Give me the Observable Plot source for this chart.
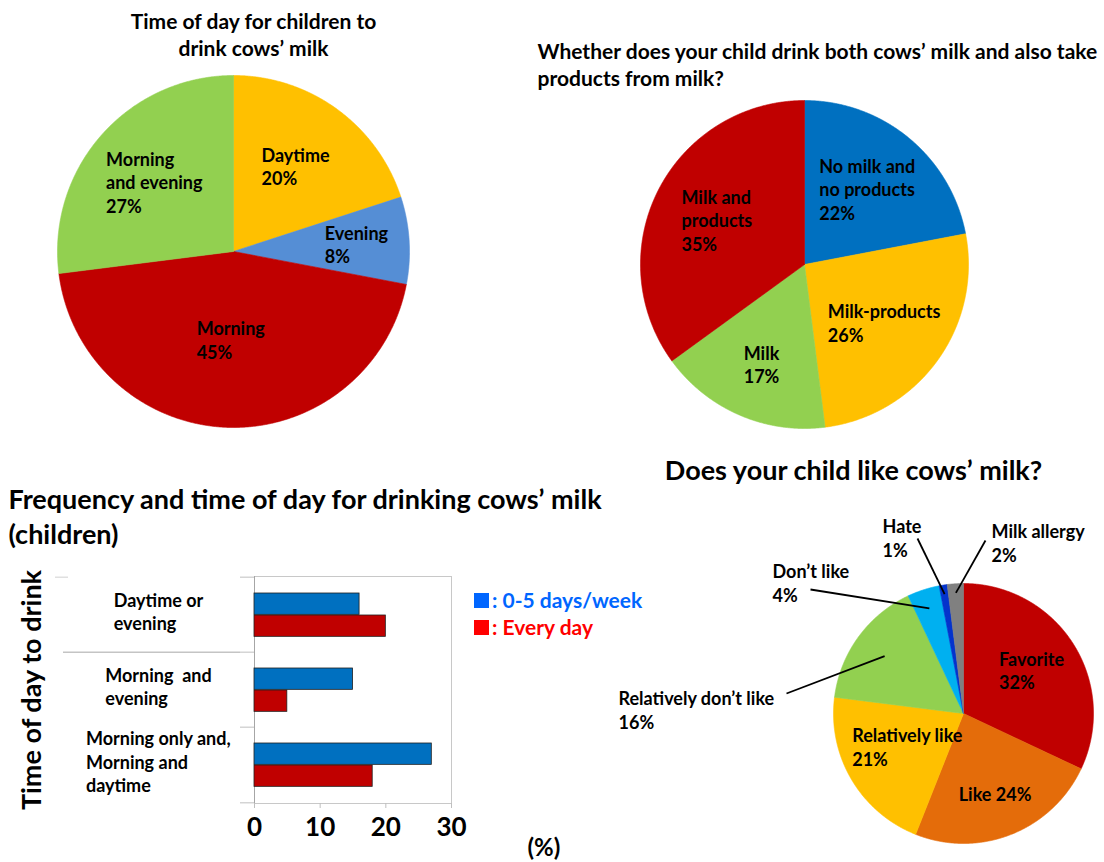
<!DOCTYPE html>
<html><head><meta charset="utf-8">
<script src="https://cdn.jsdelivr.net/npm/d3@7"></script>
<script src="https://cdn.jsdelivr.net/npm/@observablehq/plot@0.6"></script>
<style>
html,body{margin:0;padding:0;background:#fff;}
#root{position:relative;width:1104px;height:862px;overflow:hidden;font-family:Lato,"Open Sans",sans-serif;font-weight:700;color:#000;}
#root > svg, #root > div{position:absolute;}
.lg{position:absolute;white-space:nowrap;font-weight:700;font-size:21px;line-height:1;}
.sq{display:inline-block;width:15px;height:15px;vertical-align:0px;margin-right:3px;}
</style></head><body><div id="root"></div>
<script>
// ---------- DATA ----------
const timeLabels = ["Daytime", "Evening", "Morning", "Morning\nand evening"];
const timeValues = [20, 8, 45, 27];
const timeColors = ["#FFC000", "#558ED5", "#C00000", "#92D050"];

const productLabels = ["No milk and\nno products", "Milk-products", "Milk", "Milk and\nproducts"];
const productValues = [22, 26, 17, 35];
const productColors = ["#0070C0", "#FFC000", "#92D050", "#C00000"];

const likeLabels = ["Favorite", "Like", "Relatively like", "Relatively don’t like", "Don’t like", "Hate", "Milk allergy"];
const likeValues = [32, 24, 21, 16, 4, 1, 2];
const likeColors = ["#C00000", "#E46C0A", "#FFC000", "#92D050", "#00B0F0", "#0433CC", "#808080"];

const freqCategories = ["Daytime or\nevening", "Morning  and\nevening", "Morning only and,\nMorning and\ndaytime"];
const freqSeries = ["0-5 days/week", "Every day"];
const freqWeekly = [16, 15, 27];
const freqDaily = [20, 5, 18];
const freqTicks = [0, 10, 20, 30];
const seriesColors = ["#0070C0", "#C00000"];
const legendColors = ["#0066FF", "#FF0000"];

// ---------- LAYOUT ----------
const W = 1104, H = 862;
const FONT = "Lato, 'Open Sans', sans-serif";
const LFS = 18, LLH = 1.3;
const pie1 = {cx: 233, cy: 251, r: 176, lr: [0.6, 0.7, 0.5, 0.6], fs: LFS};
const pie2 = {cx: 804, cy: 264, r: 164, lr: [0.6, 0.6, 0.66, 0.6], fs: LFS};
const pie4 = {cx: 963, cy: 713, r: 130, lr: [0.62, 0.66, 0.5], fs: LFS};
const likeInline = new Set(["Like"]);
const likeOutside = {
  "Relatively don’t like": {tx: 618, ty: 709, lx: 786, ly: 693, r: 0.75},
  "Don’t like": {tx: 772, ty: 582, lx: 810, ly: 589, r: 0.85},
  "Hate": {tx: 882, ty: 537, lx: 917, ly: 538, r: 0.93},
  "Milk allergy": {tx: 991, ty: 542, lx: 985, ly: 540, r: 0.93}
};

const ctx = document.createElement("canvas").getContext("2d");
function textW(s, size) {
  ctx.font = `bold ${size}px Lato`;
  return d3.max(String(s).split("\n"), l => ctx.measureText(l).width);
}

function pieGeometry(key, labels, values, colors, p) {
  const arcs = d3.pie().sort(null).value(d => d)(values);
  const pts = [], labs = [], links = [];
  arcs.forEach((a, i) => {
    const k = key + i, fill = colors[i];
    const n = Math.max(4, Math.ceil((a.endAngle - a.startAngle) / 0.005));
    pts.push({k, x: p.cx, y: p.cy, fill});
    for (let j = 0; j <= n; j++) {
      const t = a.startAngle + (a.endAngle - a.startAngle) * j / n;
      pts.push({k, x: p.cx + p.r * Math.sin(t), y: p.cy - p.r * Math.cos(t), fill});
    }
    pts.push({k, x: p.cx, y: p.cy, fill});
    const mid = (a.startAngle + a.endAngle) / 2;
    const label = labels[i];
    const text = (p.inline && p.inline.has(label)) ? `${label} ${values[i]}%` : `${label}\n${values[i]}%`;
    const out = p.outside && p.outside[label];
    if (out) {
      labs.push({text, x: out.tx, y: out.ty});
      links.push({x1: out.lx, y1: out.ly, x2: p.cx + out.r * p.r * Math.sin(mid), y2: p.cy - out.r * p.r * Math.cos(mid)});
    } else {
      const f = p.lr[i];
      const bx = p.cx + f * p.r * Math.sin(mid), by = p.cy - f * p.r * Math.cos(mid);
      labs.push({text, x: bx - textW(text, p.fs) / 2, y: by});
    }
  });
  return {pts, labs, links};
}

const g1 = pieGeometry("a", timeLabels, timeValues, timeColors, pie1);
const g2 = pieGeometry("b", productLabels, productValues, productColors, pie2);
const g4 = pieGeometry("c", likeLabels, likeValues, likeColors, {...pie4, inline: likeInline, outside: likeOutside});

const titles = [
  {text: "Time of day for children to\ndrink cows’ milk", x: 253, y: 33.5, fs: 21, lh: 1.29, anchor: "middle"},
  {text: "Whether does your child drink both cows’ milk and also take\nproducts from milk?", x: 537, y: 63.5, fs: 21, lh: 1.29, anchor: "start"},
  {text: "Frequency and time of day for drinking cows’ milk\n(children)", x: 8, y: 514.5, fs: 27, lh: 1.3, anchor: "start"},
  {text: "Does your child like cows’ milk?", x: 853, y: 469, fs: 27, lh: 1.2, anchor: "middle"},
  {text: "(%)", x: 527, y: 848, fs: 24, lh: 1, anchor: "start"}
];

function sliceMarks(g, fs) {
  return [
    Plot.line(g.pts, {x: "x", y: "y", z: "k", fill: "fill", stroke: "fill", strokeWidth: 0.6, curve: "linear"}),
    Plot.link(g.links, {x1: "x1", y1: "y1", x2: "x2", y2: "y2", stroke: "#000", strokeWidth: 1.8}),
    Plot.text(g.labs, {x: "x", y: "y", text: "text", textAnchor: "start", lineAnchor: "middle", fontSize: fs, fontWeight: "bold", lineHeight: LLH, fill: "#000"})
  ];
}

const page = Plot.plot({
  width: W, height: H, margin: 0,
  x: {domain: [0, W], range: [0, W], axis: null},
  y: {domain: [0, H], range: [0, H], axis: null},
  color: {type: "identity"},
  style: {fontFamily: FONT, background: "#fff", overflow: "visible"},
  marks: [
    ...sliceMarks(g1, pie1.fs),
    ...sliceMarks(g2, pie2.fs),
    ...sliceMarks(g4, pie4.fs),
    ...titles.map(t => Plot.text([t], {x: "x", y: "y", text: "text", textAnchor: t.anchor, lineAnchor: "middle", fontSize: t.fs, lineHeight: t.lh, fontWeight: "bold", fill: "#000"}))
  ]
});
page.style.left = "0px"; page.style.top = "0px";

// ---------- BAR CHART ----------
const bW = 620, bH = 300, bL = 254, bR = 169, bT = 16, bB = 57;
const k = (bW - bL - bR) / 30;           // px per %
const step = (bH - bT - bB) / freqCategories.length;
const labelCenter = 158;                  // px, centre of category label block
const weekly = freqCategories.map((c, i) => ({cat: c, v: freqWeekly[i], s: freqSeries[0]}));
const daily = freqCategories.map((c, i) => ({cat: c, v: freqDaily[i], s: freqSeries[1]}));
const bars = Plot.plot({
  width: bW, height: bH, marginLeft: bL, marginRight: bR, marginTop: bT, marginBottom: bB,
  x: {domain: [0, 30], axis: null},
  y: {domain: freqCategories, padding: 0, axis: null},
  style: {fontFamily: FONT, background: "transparent", overflow: "visible"},
  marks: [
    Plot.frame({stroke: "#c8c8c8"}),
    Plot.ruleX([0], {stroke: "#a6a6a6"}),
    Plot.ruleY(freqCategories, {y: d => d, dy: -step / 2, x1: -14 / k, x2: 0, stroke: "#bfbfbf"}),
    Plot.ruleY([freqCategories[freqCategories.length - 1]], {y: d => d, dy: step / 2, x1: -14 / k, x2: 0, stroke: "#bfbfbf"}),
    Plot.ruleY([freqCategories[1]], {y: d => d, dy: -step / 2, x1: -(bL - 63) / k, x2: -14 / k, stroke: "#a6a6a6"}),
    Plot.ruleY([freqCategories[0]], {y: d => d, dy: -step / 2, x1: -(bL - 55) / k, x2: -(bL - 68) / k, stroke: "#d0d0d0"}),
    Plot.barX(weekly, {x: "v", y: "cat", fill: seriesColors[0], stroke: "#1f1f1f", strokeWidth: 0.8, insetTop: 16, insetBottom: step - 38}),
    Plot.barX(daily, {x: "v", y: "cat", fill: seriesColors[1], stroke: "#1f1f1f", strokeWidth: 0.8, insetTop: 38, insetBottom: step - 60}),
    Plot.axisX({ticks: freqTicks, tickSize: 5, tickPadding: 9, fontSize: 26, fontWeight: "bold", stroke: "#bfbfbf", fill: "#000", label: null, tickFormat: d => String(d)}),
    Plot.text(freqCategories, {y: d => d, x: d => (labelCenter - textW(d, LFS) / 2 - bL) / k, text: d => d, dy: -4, textAnchor: "start", lineAnchor: "middle", fontSize: LFS, fontWeight: "bold", lineHeight: LLH, fill: "#000"})
  ]
});
bars.style.left = "0px"; bars.style.top = "560px";

const root = document.getElementById("root");
root.appendChild(page);
root.appendChild(bars);

// y-axis title
const yt = document.createElement("div");
yt.textContent = "Time of day to drink";
Object.assign(yt.style, {left: "30px", top: "690px", fontSize: "27px", fontWeight: "700", whiteSpace: "nowrap", transform: "translate(-50%,-50%) rotate(-90deg)", lineHeight: "1"});
root.appendChild(yt);

// legend
freqSeries.forEach((s, i) => {
  const d = document.createElement("div");
  d.className = "lg";
  d.style.left = "474px";
  d.style.top = (589 + i * 27) + "px";
  d.style.color = legendColors[i];
  d.innerHTML = `<span class="sq" style="background:${legendColors[i]}"></span>: ${s}`;
  root.appendChild(d);
});
</script></body></html>
